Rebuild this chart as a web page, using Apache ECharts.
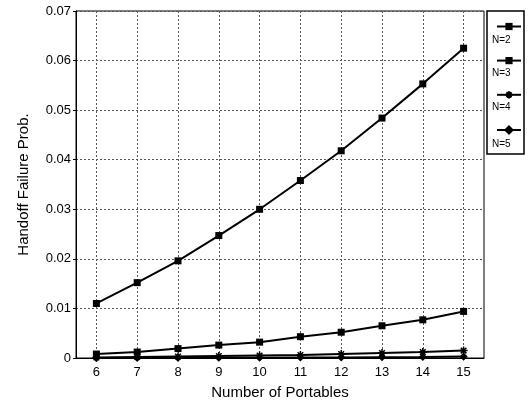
<!DOCTYPE html>
<html><head><meta charset="utf-8">
<script src="https://cdn.jsdelivr.net/npm/echarts@6/dist/echarts.min.js"></script>
<style>html,body{margin:0;padding:0;background:#fff}#c{width:531px;height:405px}</style>
</head><body><div id="c"></div>
<script>
const portables = [6, 7, 8, 9, 10, 11, 12, 13, 14, 15];
const seriesNames = ['N=2', 'N=3', 'N=4', 'N=5'];
const n2 = [0.0110, 0.0152, 0.0196, 0.0247, 0.0300, 0.0358, 0.0418, 0.0484, 0.0553, 0.0625];
const n3 = [0.0008, 0.0012, 0.0019, 0.0026, 0.0032, 0.0043, 0.0052, 0.0065, 0.0077, 0.0094];
const n4 = [0.0001, 0.0002, 0.0003, 0.0004, 0.0005, 0.0006, 0.0008, 0.0010, 0.0012, 0.0015];
const n5 = [0.00001, 0.00002, 0.00003, 0.00005, 0.00007, 0.00009, 0.00012, 0.00016, 0.00021, 0.00028];
const yTicks = [0, 0.01, 0.02, 0.03, 0.04, 0.05, 0.06, 0.07];

const font = '"Liberation Sans", Arial, sans-serif';
const starPath = 'path://M0,5L10,5M5,0L5,10M1.5,1.5L8.5,8.5M1.5,8.5L8.5,1.5';
const diamondPath = 'path://M5,0L10,5L5,10L0,5Z';

function mk(name, data, symbol, size) {
  return {
    name: name, type: 'line', data: portables.map((x, i) => [x, data[i]]),
    symbol: symbol, symbolSize: size, showSymbol: true,
    lineStyle: {color: '#000', width: 2},
    itemStyle: {color: '#000', borderColor: '#000', borderWidth: symbol.startsWith('path') ? 1.5 : 0},
    animation: false
  };
}

const chart = echarts.init(document.getElementById('c'));
chart.setOption({
  backgroundColor: '#fff',
  animation: false,
  grid: {left: 76, right: 47, top: 11, bottom: 47, show: true, borderColor: '#000', borderWidth: 1},
  xAxis: {
    type: 'value', min: 5.5, max: 15.5,
    name: 'Number of Portables', nameLocation: 'middle', nameGap: 27,
    nameTextStyle: {fontFamily: font, fontSize: 15, color: '#000'},
    axisLine: {show: true, lineStyle: {color: '#000'}},
    axisTick: {show: false, customValues: portables},
    axisLabel: {fontFamily: font, fontSize: 13, color: '#000', margin: 8, customValues: portables},
    splitLine: {show: true, lineStyle: {color: '#555', type: [2, 2], width: 1}}
  },
  yAxis: {
    type: 'value', min: yTicks[0], max: yTicks[yTicks.length - 1], interval: 0.01,
    name: 'Handoff Failure Prob.', nameLocation: 'middle', nameGap: 45,
    nameTextStyle: {fontFamily: font, fontSize: 15, color: '#000'},
    axisLine: {show: true, lineStyle: {color: '#000'}},
    axisTick: {show: true, length: 3, inside: false, lineStyle: {color: '#000'}},
    axisLabel: {fontFamily: font, fontSize: 13, color: '#000', margin: 5,
      formatter: v => String(Math.round(v * 100) / 100)},
    splitLine: {show: true, lineStyle: {color: '#555', type: [2, 2], width: 1}}
  },
  legend: {
    orient: 'vertical', left: 491, top: 17, itemWidth: 24, itemHeight: 9, itemGap: 26,
    formatter: () => '', textStyle: {fontSize: 1},
    data: seriesNames
  },
  graphic: [
    {type: 'rect', shape: {x: 487, y: 11, width: 37, height: 143},
     style: {fill: 'none', stroke: '#000', lineWidth: 1.5}, z: 10},
    ...seriesNames.map((n, i) => ({
      type: 'text', left: 492, top: [35, 68, 102, 139][i],
      style: {text: n, fontFamily: font, fontSize: 10, fill: '#000'}, z: 10
    }))
  ],
  series: [
    mk(seriesNames[0], n2, 'rect', 7),
    mk(seriesNames[1], n3, 'rect', 7),
    mk(seriesNames[2], n4, starPath, 8),
    mk(seriesNames[3], n5, diamondPath, 6)
  ]
});
</script></body></html>
